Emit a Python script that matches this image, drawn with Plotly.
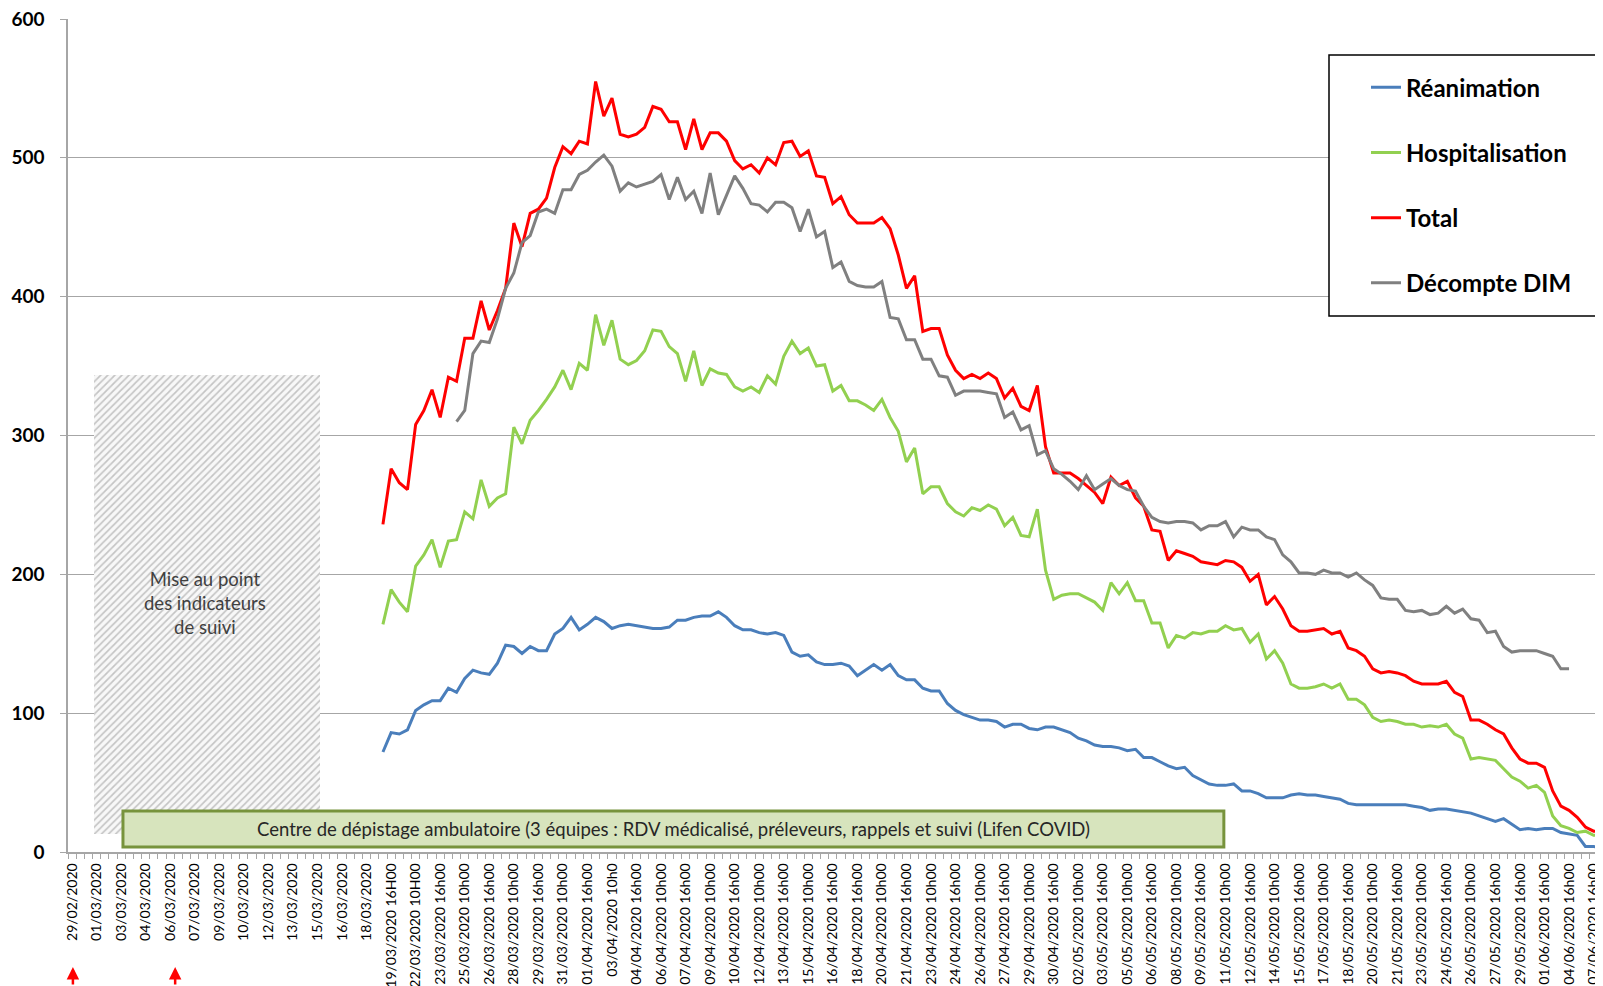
import plotly.graph_objects as go

# x axis: one category per half-day, one label every 3 categories
tick_labels = ["29/02/2020", "01/03/2020", "03/03/2020", "04/03/2020", "06/03/2020", "07/03/2020",
               "09/03/2020", "10/03/2020", "12/03/2020", "13/03/2020", "15/03/2020", "16/03/2020",
               "18/03/2020", "19/03/2020 16H00", "22/03/2020 10H00", "23/03/2020 16h00", "25/03/2020 10h00",
               "26/03/2020 16h00", "28/03/2020 10h00", "29/03/2020 16h00", "31/03/2020 10h00",
               "01/04/2020 16h00", "03/04/2020 10h0", "04/04/2020 16h00", "06/04/2020 10h00",
               "07/04/2020 16h00", "09/04/2020 10h00", "10/04/2020 16h00", "12/04/2020 10h00",
               "13/04/2020 16h00", "15/04/2020 10h00", "16/04/2020 16h00", "18/04/2020 16h00",
               "20/04/2020 10h00", "21/04/2020 16h00", "23/04/2020 10h00", "24/04/2020 16h00",
               "26/04/2020 10h00", "27/04/2020 16h00", "29/04/2020 10h00", "30/04/2020 16h00",
               "02/05/2020 10h00", "03/05/2020 16h00", "05/05/2020 10h00", "06/05/2020 16h00",
               "08/05/2020 10h00", "09/05/2020 16h00", "11/05/2020 10h00", "12/05/2020 16h00",
               "14/05/2020 10h00", "15/05/2020 16h00", "17/05/2020 10h00", "18/05/2020 16h00",
               "20/05/2020 10h00", "21/05/2020 16h00", "23/05/2020 10h00", "24/05/2020 16h00",
               "26/05/2020 10h00", "27/05/2020 16h00", "29/05/2020 16h00", "01/06/2020 16h00",
               "04/06/2020 16h00", "07/06/2020 16h00"]
tick_step = 3

# first category index of each series
start_main = 38
start_dim = 47

reanimation = [72, 86, 85, 88, 102, 106, 109, 109, 118, 115,
               125, 131, 129, 128, 136, 149, 148, 143, 148, 145,
               145, 157, 161, 169, 160, 164, 169, 166, 161, 163,
               164, 163, 162, 161, 161, 162, 167, 167, 169, 170,
               170, 173, 169, 163, 160, 160, 158, 157, 158, 156,
               144, 141, 142, 137, 135, 135, 136, 134, 127, 131,
               135, 131, 135, 127, 124, 124, 118, 116, 116, 107,
               102, 99, 97, 95, 95, 94, 90, 92, 92, 89,
               88, 90, 90, 88, 86, 82, 80, 77, 76, 76,
               75, 73, 74, 68, 68, 65, 62, 60, 61, 55,
               52, 49, 48, 48, 49, 44, 44, 42, 39, 39,
               39, 41, 42, 41, 41, 40, 39, 38, 35, 34,
               34, 34, 34, 34, 34, 34, 33, 32, 30, 31,
               31, 30, 29, 28, 26, 24, 22, 24, 20, 16,
               17, 16, 17, 17, 14, 13, 12, 4, 4, 3]

hospitalisation = [164, 189, 180, 173, 206, 214, 225, 205, 224, 225,
                   245, 240, 268, 249, 255, 258, 306, 294, 311, 318,
                   326, 335, 347, 333, 352, 347, 387, 365, 383, 355,
                   351, 354, 361, 376, 375, 364, 359, 339, 361, 336,
                   348, 345, 344, 335, 332, 335, 331, 343, 337, 357,
                   368, 359, 363, 350, 351, 332, 336, 325, 325, 322,
                   318, 326, 313, 303, 281, 291, 258, 263, 263, 251,
                   245, 242, 248, 246, 250, 247, 235, 241, 228, 227,
                   247, 203, 182, 185, 186, 186, 183, 180, 174, 194,
                   186, 194, 181, 181, 165, 165, 147, 156, 154, 158,
                   157, 159, 159, 163, 160, 161, 151, 157, 139, 145,
                   136, 121, 118, 118, 119, 121, 118, 121, 110, 110,
                   106, 97, 94, 95, 94, 92, 92, 90, 91, 90,
                   92, 85, 82, 67, 68, 67, 66, 60, 54, 51,
                   46, 48, 43, 26, 19, 17, 14, 15, 12, 12]

total = [236, 276, 266, 261, 308, 318, 333, 313, 342, 339,
         370, 370, 397, 376, 390, 406, 453, 436, 460, 463,
         471, 493, 508, 503, 512, 510, 555, 530, 543, 517,
         515, 517, 522, 537, 535, 526, 526, 506, 528, 506,
         518, 518, 512, 498, 492, 495, 489, 500, 495, 511,
         512, 501, 505, 487, 486, 467, 472, 459, 453, 453,
         453, 457, 449, 430, 406, 415, 375, 377, 377, 358,
         347, 341, 344, 341, 345, 341, 327, 334, 321, 318,
         336, 292, 273, 273, 273, 269, 264, 259, 251, 270,
         264, 267, 255, 249, 232, 231, 210, 217, 215, 213,
         209, 208, 207, 210, 209, 205, 195, 200, 178, 184,
         175, 163, 159, 159, 160, 161, 157, 159, 147, 145,
         141, 132, 129, 130, 129, 127, 123, 121, 121, 121,
         123, 115, 112, 95, 95, 92, 88, 85, 75, 67,
         64, 64, 61, 44, 33, 30, 25, 18, 15, 15]

decompte_dim = [310, 318, 359, 368, 367, 384, 406, 417, 439, 444,
                461, 463, 460, 477, 477, 488, 491, 497, 502, 494,
                476, 482, 479, 481, 483, 488, 470, 486, 470, 476,
                460, 489, 459, 473, 487, 478, 467, 466, 461, 468,
                468, 464, 447, 463, 443, 447, 421, 425, 411, 408,
                407, 407, 411, 385, 384, 369, 369, 355, 355, 343,
                342, 329, 332, 332, 332, 331, 330, 313, 317, 304,
                307, 286, 289, 276, 272, 267, 261, 271, 261, 265,
                269, 264, 261, 260, 249, 241, 238, 237, 238, 238,
                237, 232, 235, 235, 238, 227, 234, 232, 232, 227,
                225, 214, 209, 201, 201, 200, 203, 201, 201, 198,
                201, 196, 192, 183, 182, 182, 174, 173, 174, 171,
                172, 177, 172, 175, 168, 167, 158, 159, 148, 144,
                145, 145, 145, 143, 141, 132, 132]

FONT = "Lato"

def xs(start, values):
    return list(range(start, start + len(values)))

fig = go.Figure()

# zone hachuree "Mise au point des indicateurs de suivi"
fig.add_trace(go.Bar(x=[16.5], y=[330.7], base=[13], width=[27.6],
                     marker=dict(color="#f8f8f8", line=dict(width=0),
                                 pattern=dict(shape="/", size=5, solidity=0.33,
                                              fgcolor="#c4c4c4", bgcolor="#f8f8f8",
                                              fillmode="replace")),
                     showlegend=False, hoverinfo="skip"))

series = [("Réanimation", reanimation, start_main, "#4a7ebb"),
          ("Hospitalisation", hospitalisation, start_main, "#92d050"),
          ("Total", total, start_main, "#ff0000"),
          ("Décompte DIM", decompte_dim, start_dim, "#808080")]
for name, vals, st, col in series:
    fig.add_trace(go.Scatter(x=xs(st, vals), y=vals, name=name, mode="lines",
                             legendgroup=name, line=dict(color=col, width=3)))

# the page body has an 8px margin: the figure is shifted by that amount
fig.update_layout(
    width=1595, height=978,
    margin=dict(l=60, r=0, t=11, b=134),
    paper_bgcolor="white", plot_bgcolor="white",
    font=dict(family=FONT, color="black"),
    showlegend=True,
    legend=dict(x=0.8456, y=0.9446, xanchor="left", yanchor="top",
                bgcolor="rgba(0,0,0,0)", borderwidth=0,
                font=dict(family=FONT, size=24, color="black", weight="bold"),
                traceorder="grouped", tracegroupgap=31),
    bargap=0,
)

fig.update_xaxes(range=[-0.5, 187.15], showgrid=False, zeroline=False,
                 automargin=False,
                 tickmode="array",
                 tickvals=[i * tick_step for i in range(len(tick_labels))],
                 ticktext=tick_labels, tickangle=-90, ticks="",
                 tickfont=dict(family=FONT, size=14, color="black"),
                 ticklabelstandoff=4, ticklabeloverflow="allow",
                 minor=dict(ticks="outside", tick0=0.5, dtick=1, ticklen=5,
                            tickcolor="#a6a6a6", tickwidth=1),
                 showline=True, linecolor="#a6a6a6", linewidth=1.5)
fig.update_yaxes(range=[0, 600], dtick=100, showgrid=True, gridcolor="#a6a6a6",
                 gridwidth=1.3, zeroline=False, showline=True, automargin=False,
                 linecolor="#a6a6a6", linewidth=1.5,
                 ticks="outside", ticklen=6, tickcolor="#a6a6a6",
                 tickfont=dict(family=FONT, size=19, color="black", weight="bold"),
                 ticklabelstandoff=12, ticklabeloverflow="allow")

# cadre de legende (coupe a droite comme dans l'original)
fig.add_shape(type="rect", xref="paper", yref="paper",
              x0=0.8215, x1=1.1, y0=0.6435, y1=0.9568,
              line=dict(color="black", width=1.5), fillcolor="white", layer="above")

# bandeau "Centre de depistage"
fig.add_shape(type="rect", xref="x", yref="y", x0=6.22, x1=140.8, y0=3.6, y1=29.5,
              line=dict(color="#77933c", width=3), fillcolor="#d7e4bd", layer="above")
fig.add_annotation(x=73.5, y=16.6, xref="x", yref="y", showarrow=False,
                   text="Centre de dépistage ambulatoire (3 équipes : RDV médicalisé, préleveurs, rappels et suivi (Lifen COVID)",
                   font=dict(family=FONT, size=18.5, color="#262626"))

fig.add_annotation(x=16.3, y=179, xref="x", yref="y", showarrow=False,
                   text="Mise au point<br>des indicateurs<br>de suivi",
                   font=dict(family=FONT, size=18.5, color="#404040"))

# fleches rouges sous l'axe
for xa in [0.1, 12.6]:
    fig.add_annotation(x=xa, y=-0.138, xref="x", yref="paper", text="",
                       showarrow=True, ax=0, ay=40, arrowhead=2, arrowsize=1,
                       arrowwidth=2.5, arrowcolor="#ff0000")

fig.write_html("out.html")
